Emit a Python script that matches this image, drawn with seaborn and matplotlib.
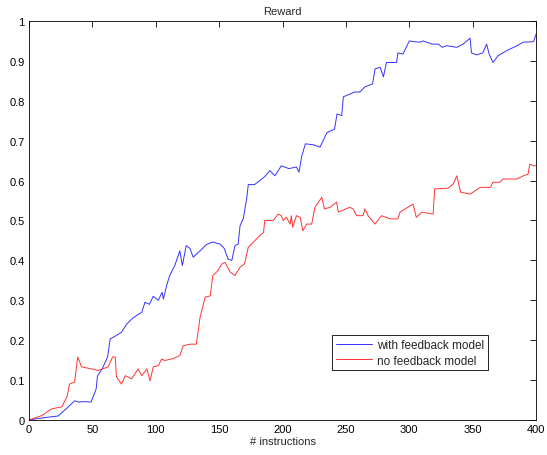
import matplotlib
matplotlib.use("Agg")
import matplotlib.pyplot as plt
import seaborn as sns
import pandas as pd

# ---- data ----
with_x = [0, 10, 23, 30, 36, 39, 44, 49, 53, 54, 58, 62, 64, 68, 73, 77, 81, 85, 89, 91.5, 95, 98, 102, 105, 106,
          108.6, 111, 115, 119, 121, 124, 127, 129.5, 135, 140, 145, 150.7, 154, 157, 160, 162.5, 165, 166.5, 169,
          171.7, 173, 178, 182, 186, 190, 194, 199, 205, 211, 213, 215, 218, 224, 229.6, 235, 241, 243, 246.7, 248,
          257, 261, 265, 271, 273, 277, 279.6, 282, 290, 291, 295, 300, 304, 308.5, 311, 318, 323, 326, 329.5, 337.5,
          342.5, 348, 349, 353, 358, 361, 363, 366, 370, 377, 385, 390, 398, 400]
with_y = [0.0, 0.005, 0.01, 0.03, 0.048, 0.045, 0.046, 0.045, 0.078, 0.11, 0.13, 0.158, 0.203, 0.21, 0.22, 0.24,
          0.253, 0.262, 0.27, 0.295, 0.29, 0.31, 0.30, 0.32, 0.303,
          0.337, 0.362, 0.387, 0.424, 0.387, 0.437, 0.43, 0.408, 0.424, 0.44, 0.446, 0.441, 0.43, 0.403, 0.40,
          0.437, 0.441, 0.487, 0.504,
          0.554, 0.59, 0.59, 0.60, 0.61, 0.625, 0.612, 0.637, 0.63, 0.634, 0.621, 0.659, 0.692, 0.69, 0.684, 0.72,
          0.729, 0.767, 0.763, 0.81,
          0.822, 0.822, 0.835, 0.842, 0.88, 0.884, 0.86, 0.896, 0.896, 0.92, 0.917, 0.95, 0.948, 0.947, 0.95, 0.942,
          0.942, 0.934, 0.938, 0.934,
          0.942, 0.957, 0.92, 0.915, 0.92, 0.942, 0.917, 0.896, 0.913, 0.926, 0.938, 0.947, 0.948, 0.967]

no_x = [0, 10, 18, 26, 30, 32, 36, 38.4, 41.5, 49.5, 54.5, 62.4, 66, 68, 69, 73, 76, 81, 86, 89, 93, 95.5, 98, 102,
        104.7, 107, 112.6, 119, 121.6, 127, 132, 135, 139, 143, 145, 149, 152, 154.6, 158.6, 162.5, 166.5, 170, 173,
        179.6, 182, 185, 186, 192.7, 196.5, 199, 200.5, 203, 206, 207, 208, 211, 214, 216, 219, 223, 225.6, 231, 233,
        237.5, 242.7, 244, 253, 255.6, 258.5, 263.5, 265, 267.5, 273, 278, 285, 291, 292.7, 296.7, 303, 305.5, 310,
        318.8, 320, 330.6, 334.6, 337.5, 340.5, 348, 356, 364, 366, 371.6, 374, 385, 390, 393.7, 395, 398, 400]
no_y = [0.0, 0.011, 0.028, 0.033, 0.058, 0.09, 0.095, 0.158, 0.133, 0.128, 0.124, 0.133, 0.158, 0.158, 0.108, 0.09,
        0.111, 0.103, 0.128, 0.111, 0.128, 0.098, 0.133, 0.136,
        0.153, 0.149, 0.153, 0.161, 0.186, 0.19, 0.19, 0.258, 0.308, 0.311, 0.362, 0.374, 0.391, 0.395, 0.371,
        0.362, 0.383, 0.391, 0.433,
        0.454, 0.462, 0.47, 0.50, 0.50, 0.516, 0.512, 0.50, 0.508, 0.491, 0.512, 0.483, 0.512, 0.508, 0.474, 0.491,
        0.491, 0.533, 0.558, 0.529,
        0.533, 0.546, 0.521, 0.533, 0.529, 0.512, 0.512, 0.529, 0.512, 0.491, 0.512, 0.504, 0.504, 0.521, 0.529,
        0.541, 0.508, 0.521,
        0.516, 0.579, 0.581, 0.591, 0.612, 0.571, 0.566, 0.583, 0.583, 0.596, 0.596, 0.604, 0.604, 0.612, 0.616,
        0.641, 0.637, 0.637]

series_names = ["with feedback model", "no feedback model"]
x_ticks = [0, 50, 100, 150, 200, 250, 300, 350, 400]
y_ticks = [0, 0.1, 0.2, 0.3, 0.4, 0.5, 0.6, 0.7, 0.8, 0.9, 1]
y_tick_labels = ["0", "0.1", "0.2", "0.3", "0.4", "0.5", "0.6", "0.7", "0.8", "0.9", "1"]

df = pd.concat([
    pd.DataFrame({"x": with_x, "y": with_y, "model": series_names[0]}),
    pd.DataFrame({"x": no_x, "y": no_y, "model": series_names[1]}),
])

sns.set_style("white")
plt.rcParams["font.family"] = ["Liberation Sans", "DejaVu Sans"]

fig = plt.figure(figsize=(5.47, 4.56), dpi=100)
ax = fig.add_axes([0.053, 0.0768, 0.927, 0.875])

sns.lineplot(data=df, x="x", y="y", hue="model", palette=["#3333ff", "#ff3333"],
             estimator=None, sort=False, linewidth=0.7, ax=ax)

ax.set_xlim(0, 400)
ax.set_ylim(0, 1)
ax.set_xticks(x_ticks)
ax.set_yticks(y_ticks)
ax.set_yticklabels(y_tick_labels)
ax.tick_params(direction="in", length=4, width=0.6, labelsize=8, top=True, right=True, pad=3, colors="black")
for s in ax.spines.values():
    s.set_visible(True)
    s.set_color("black")
    s.set_linewidth(0.6)
ax.set_title("Reward", fontsize=8, pad=5)
ax.set_xlabel("# instructions", fontsize=8, labelpad=1)
ax.set_ylabel("")

leg = ax.legend(loc="lower left", bbox_to_anchor=(0.598, 0.125), fontsize=8.5, frameon=True,
                fancybox=False, edgecolor="black", framealpha=1, handlelength=3.1,
                borderpad=0.3, labelspacing=0.3, handletextpad=0.4, borderaxespad=0)
leg.get_frame().set_linewidth(0.6)

fig.savefig("out.png", dpi=100)
